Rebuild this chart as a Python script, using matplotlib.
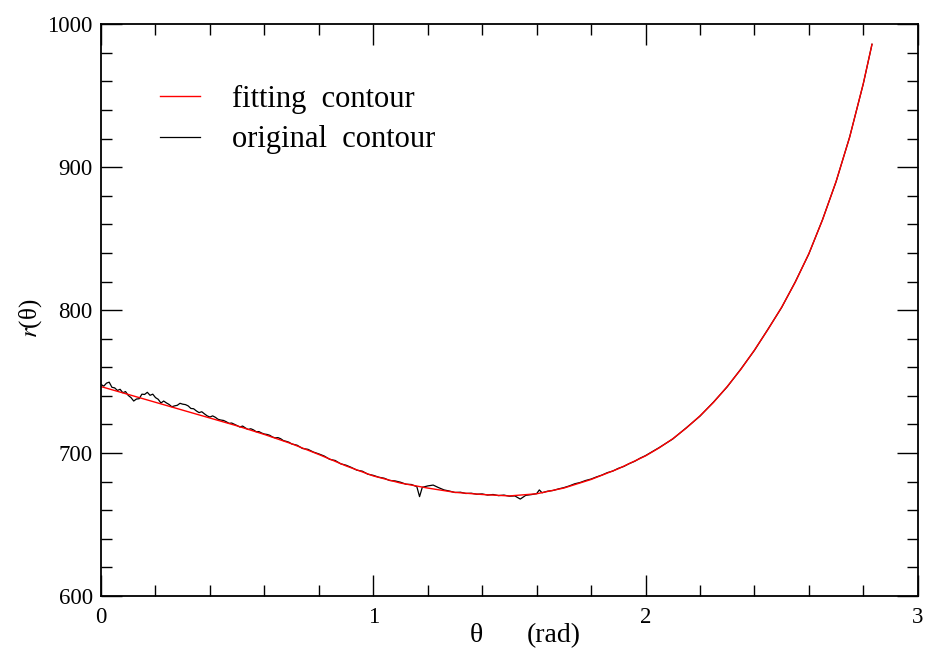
import matplotlib
matplotlib.use("Agg")
import matplotlib.pyplot as plt
import numpy as np
from matplotlib.ticker import MultipleLocator

plt.rcParams['font.family'] = ['Liberation Serif', 'DejaVu Serif']

# fitting contour
theta_fit = [0.0, 0.1, 0.2, 0.3, 0.4, 0.5, 0.6, 0.7, 0.8, 0.9, 1.0,
             1.1, 1.2, 1.3, 1.4, 1.5, 1.6, 1.7, 1.8, 1.9, 2.0,
             2.05, 2.1, 2.15, 2.2, 2.25, 2.3, 2.35, 2.4, 2.45, 2.5,
             2.55, 2.6, 2.65, 2.7, 2.75, 2.8, 2.832]
r_fit = [746.5, 741.0, 735.5, 730.0, 724.5, 719.0, 713.0, 706.5, 699.0, 691.0, 684.0,
         679.0, 675.5, 672.5, 671.0, 670.0, 671.5, 675.5, 681.5, 689.0, 698.0,
         703.6, 710.0, 717.5, 726.0, 735.5, 746.5, 758.5, 772.0, 786.5, 802.0,
         819.5, 839.5, 863.0, 890.0, 921.0, 958.5, 986.0]

# original contour (noisy black curve)
theta_orig = [0.00, 0.01, 0.02, 0.03, 0.04, 0.05, 0.06, 0.07, 0.08, 0.09,
              0.10, 0.11, 0.12, 0.13, 0.14, 0.15, 0.16, 0.17, 0.18, 0.19,
              0.20, 0.21, 0.22, 0.23, 0.24, 0.25, 0.26, 0.27, 0.28, 0.29,
              0.30, 0.31, 0.32, 0.33, 0.34, 0.35, 0.36, 0.37, 0.38, 0.39,
              0.40, 0.41, 0.42, 0.43, 0.44, 0.45, 0.46, 0.47, 0.48, 0.49,
              0.50, 0.51, 0.52, 0.53, 0.54, 0.55, 0.56, 0.57, 0.58, 0.59,
              0.60, 0.61, 0.62, 0.63, 0.64, 0.65, 0.66, 0.67, 0.68, 0.69,
              0.70, 0.72, 0.74, 0.76, 0.78,
              0.80, 0.82, 0.84, 0.86, 0.88, 0.90, 0.92, 0.94, 0.96, 0.98,
              1.00, 1.02, 1.04, 1.06, 1.08, 1.10, 1.12, 1.14, 1.16, 1.17,
              1.18, 1.20, 1.22, 1.24, 1.26, 1.28, 1.30, 1.32, 1.34, 1.36,
              1.38, 1.40, 1.42, 1.44, 1.46, 1.48, 1.50, 1.52, 1.54, 1.56,
              1.58, 1.60, 1.61, 1.62, 1.64, 1.66, 1.68, 1.70, 1.72, 1.74,
              1.76, 1.78, 1.80, 1.82, 1.84, 1.86, 1.88, 1.90, 1.92, 1.94,
              1.96, 1.98, 2.00, 2.05, 2.10, 2.15, 2.20, 2.25, 2.30, 2.35,
              2.40, 2.45, 2.50, 2.55, 2.60, 2.65, 2.70, 2.75, 2.80, 2.832]
r_orig = [748.0, 746.8, 748.9, 749.6, 746.0, 745.6, 743.8, 744.6, 742.2, 743.0,
          740.3, 738.8, 736.4, 737.8, 738.0, 741.2, 741.0, 742.5, 740.4, 741.2,
          738.8, 737.6, 735.0, 736.4, 735.1, 734.0, 732.4, 733.0, 733.4, 734.8,
          734.2, 733.9, 733.0, 731.2, 731.0, 729.5, 728.3, 728.9, 727.4, 726.0,
          725.2, 726.0, 725.0, 723.6, 723.1, 722.8, 721.9, 720.8, 721.0, 720.1,
          719.2, 718.2, 718.9, 717.6, 716.5, 717.0, 716.2, 714.9, 715.0, 714.0,
          713.3, 713.0, 712.4, 711.2, 710.6, 710.8, 710.0, 708.7, 708.2, 707.6,
          706.4, 705.5, 703.2, 702.6, 700.7,
          699.4, 697.9, 695.6, 694.8, 692.5, 691.5, 689.9, 688.0, 687.3, 685.2,
          684.4, 683.1, 682.4, 680.8, 680.5, 679.6, 678.2, 678.0, 676.5, 669.5,
          676.0, 677.0, 677.6, 675.8, 674.2, 673.4, 672.4, 672.6, 671.7, 671.9,
          671.2, 671.4, 670.6, 671.0, 670.2, 670.6, 669.8, 670.0, 667.8, 670.4,
          670.9, 671.6, 674.2, 672.2, 673.3, 673.8, 674.9, 675.8, 677.0, 678.5,
          679.4, 680.8, 681.8, 683.3, 684.6, 686.3, 687.4, 689.3, 690.6, 692.6,
          694.2, 696.4, 698.2, 703.8, 709.8, 717.7, 725.8, 735.7, 746.3, 758.7,
          771.8, 786.7, 801.8, 819.7, 839.3, 863.2, 889.8, 921.2, 958.3, 986.0]

fig = plt.figure(figsize=(9.27, 6.56), dpi=100)
ax = fig.add_axes([0.109, 0.0915, 0.881, 0.8715])

ax.plot(theta_orig, r_orig, color='black', lw=0.9, label='original  contour')
ax.plot(theta_fit, r_fit, color='red', lw=1.0, label='fitting  contour')

ax.set_xlim(0, 3)
ax.set_ylim(600, 1000)
ax.xaxis.set_major_locator(MultipleLocator(1))
ax.xaxis.set_minor_locator(MultipleLocator(0.2))
ax.yaxis.set_major_locator(MultipleLocator(100))
ax.yaxis.set_minor_locator(MultipleLocator(20))
ax.tick_params(which='both', direction='in', top=True, right=True,
               labelsize=16.5, width=1.0)
ax.tick_params(which='major', length=15)
ax.tick_params(axis='x', which='major', pad=8)
ax.tick_params(axis='y', which='major', pad=6)
ax.tick_params(which='minor', length=8)
for s in ax.spines.values():
    s.set_linewidth(1.3)

# axis titles
fig.text(476 / 927, 1 - 636 / 656, 'θ', fontsize=20, ha='center', va='center')
fig.text(527 / 927, 1 - 636 / 656, '(rad)', fontsize=20, ha='left', va='center')
fig.text(0.033, 1 - 318 / 656, r'$\mathit{r}$(θ)', rotation=90, fontsize=18,
         va='center', ha='center', math_fontfamily='stix')

h, l = ax.get_legend_handles_labels()
ax.legend(h[::-1], l[::-1], loc='upper left', bbox_to_anchor=(0.072, 0.894),
          frameon=False, fontsize=22, handlelength=1.3, handletextpad=1.05,
          labelspacing=0.38, borderpad=0, borderaxespad=0)

fig.savefig('out.png', dpi=100)
